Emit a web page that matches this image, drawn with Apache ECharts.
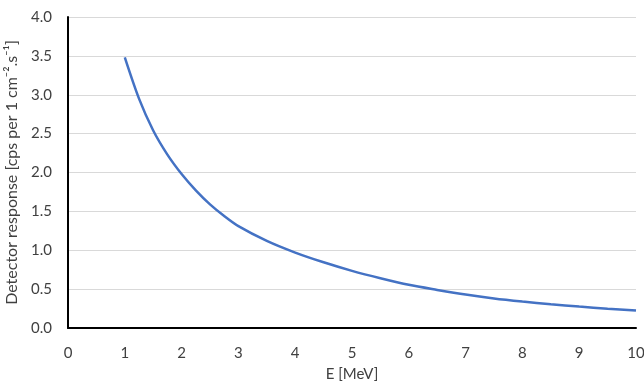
<!DOCTYPE html>
<html>
<head>
<meta charset="utf-8">
<script src="https://cdn.jsdelivr.net/npm/echarts@6/dist/echarts.min.js"></script>
<style>
  html, body { margin: 0; padding: 0; background: #fff; }
  #chart { width: 644px; height: 382px; }
</style>
</head>
<body>
<div id="chart"></div>
<script>
// energy [MeV] and detector response
var energy = [1, 1.25, 1.5, 1.75, 2, 2.25, 2.5, 2.75, 3, 3.5, 4, 4.5, 5, 5.5, 6, 6.5, 7, 7.5, 8, 8.5, 9, 9.5, 10];
var response = [3.48, 2.95, 2.54, 2.23, 1.98, 1.77, 1.59, 1.44, 1.31, 1.12, 0.97, 0.845, 0.735, 0.64, 0.555, 0.49, 0.43, 0.38, 0.34, 0.305, 0.275, 0.248, 0.224];

var points = energy.map(function (e, i) { return [e, response[i]]; });

var chart = echarts.init(document.getElementById('chart'));
var font = 'Lato';
var textColor = '#404040';

chart.setOption({
    animation: false,
    grid: { left: 68, right: 8, top: 17, bottom: 54, outerBoundsMode: 'none', containLabel: false },
    xAxis: {
        type: 'value',
        min: 0,
        max: 10,
        interval: 1,
        name: 'E [MeV]',
        nameLocation: 'middle',
        nameGap: 39,
        nameTextStyle: { color: textColor, fontFamily: font, fontSize: 15 },
        axisLine: { lineStyle: { color: '#000', width: 2 } },
        axisTick: { show: false },
        axisLabel: { color: textColor, fontFamily: font, fontSize: 15, margin: 18 },
        splitLine: { show: false }
    },
    yAxis: {
        type: 'value',
        min: 0,
        max: 4,
        interval: 0.5,
        name: 'Detector response [cps per 1 cm\u207B\u00B2.s\u207B\u00B9]',
        nameLocation: 'middle',
        nameGap: 38,
        nameTextStyle: { color: textColor, fontFamily: font, fontSize: 16 },
        axisLine: { show: true, lineStyle: { color: '#000', width: 2 } },
        axisTick: { show: false },
        axisLabel: {
            color: textColor, fontFamily: font, fontSize: 15, margin: 16,
            formatter: function (v) { return v.toFixed(1); }
        },
        splitLine: { lineStyle: { color: '#d9d9d9', width: 1 } }
    },
    series: [{
        type: 'line',
        data: points,
        smooth: 0.3,
        showSymbol: false,
        lineStyle: { color: '#4472c4', width: 2.5 }
    }]
});
</script>
</body>
</html>
